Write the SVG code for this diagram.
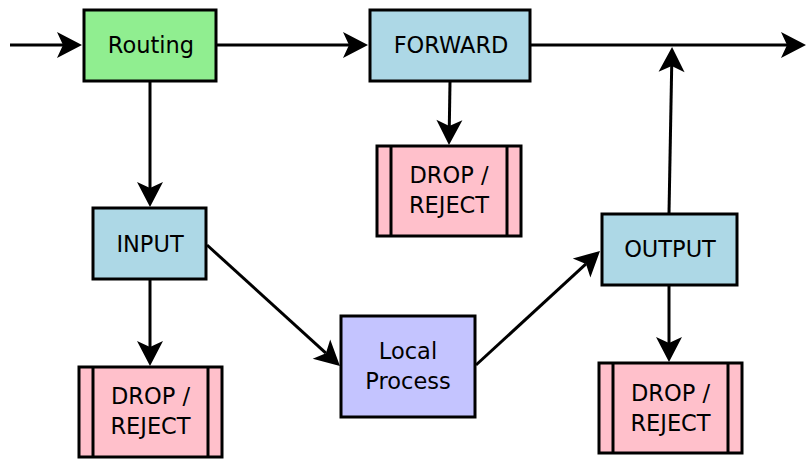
<svg xmlns="http://www.w3.org/2000/svg" width="806" height="459" viewBox="0 0 806 459">
  <style>
    .box { stroke: #000; stroke-width: 3; }
    .route { fill: #90ee90; }
    .chain { fill: #add8e6; }
    .local { fill: #c4c4ff; }
    .drop { fill: #ffc0cb; }
    .bar { stroke: #000; stroke-width: 3; }
    .label { font-family: "DejaVu Sans", Verdana, sans-serif; font-size: 22.5px; fill: #000; text-anchor: middle; }
    .edge { fill: none; stroke: #000; stroke-width: 3; marker-end: url(#head); }
  </style>
  <defs>
    <!-- concave arrowhead; the line stops at the notch (x=6), the tip is at x=25 -->
    <marker id="head" markerUnits="userSpaceOnUse" viewBox="0 -14 26 28" markerWidth="26" markerHeight="28" refX="6" refY="0" orient="auto" overflow="visible">
      <path d="M6,0 L0,-13 L25,0 L0,13 Z" fill="#000"/>
    </marker>
  </defs>

  <rect width="806" height="459" fill="#fff"/>

  <g id="connectors">
    <line class="edge" x1="10" y1="45" x2="63" y2="45"/>
    <line class="edge" x1="216" y1="45" x2="349" y2="45"/>
    <line class="edge" x1="531" y1="45" x2="787" y2="45"/>
    <line class="edge" x1="150" y1="82" x2="150" y2="188"/>
    <line class="edge" x1="450" y1="82" x2="449.3" y2="126"/>
    <line class="edge" x1="150" y1="280" x2="150" y2="347"/>
    <line class="edge" x1="207" y1="245" x2="325.9" y2="353.2"/>
    <line class="edge" x1="476" y1="365" x2="586" y2="263.9"/>
    <line class="edge" x1="669" y1="213" x2="671.7" y2="66"/>
    <line class="edge" x1="669" y1="286" x2="669" y2="343"/>
  </g>

  <g id="routing">
    <rect class="box route" x="84" y="10" width="132" height="71"/>
    <text class="label" x="151" y="53">Routing</text>
  </g>

  <g id="forward">
    <rect class="box chain" x="370" y="10" width="160" height="71"/>
    <text class="label" x="451" y="53">FORWARD</text>
  </g>

  <g id="forward-drop">
    <rect class="box drop" x="377" y="146" width="144" height="90"/>
    <line class="bar" x1="391" y1="146" x2="391" y2="236"/>
    <line class="bar" x1="507" y1="146" x2="507" y2="236"/>
    <text class="label" x="449" y="183">DROP /</text>
    <text class="label" x="449" y="213">REJECT</text>
  </g>

  <g id="input">
    <rect class="box chain" x="93" y="208" width="113" height="71"/>
    <text class="label" x="150" y="251.5">INPUT</text>
  </g>

  <g id="input-drop">
    <rect class="box drop" x="79" y="367" width="143" height="90"/>
    <line class="bar" x1="93" y1="367" x2="93" y2="457"/>
    <line class="bar" x1="208" y1="367" x2="208" y2="457"/>
    <text class="label" x="150.5" y="404">DROP /</text>
    <text class="label" x="150.5" y="434">REJECT</text>
  </g>

  <g id="local-process">
    <rect class="box local" x="341" y="316" width="134" height="101"/>
    <text class="label" x="408" y="359">Local</text>
    <text class="label" x="408" y="389">Process</text>
  </g>

  <g id="output">
    <rect class="box chain" x="602" y="214" width="135" height="71"/>
    <text class="label" x="670" y="257">OUTPUT</text>
  </g>

  <g id="output-drop">
    <rect class="box drop" x="599" y="363" width="143" height="90"/>
    <line class="bar" x1="613" y1="363" x2="613" y2="453"/>
    <line class="bar" x1="728" y1="363" x2="728" y2="453"/>
    <text class="label" x="670.5" y="401">DROP /</text>
    <text class="label" x="670.5" y="431">REJECT</text>
  </g>
</svg>
